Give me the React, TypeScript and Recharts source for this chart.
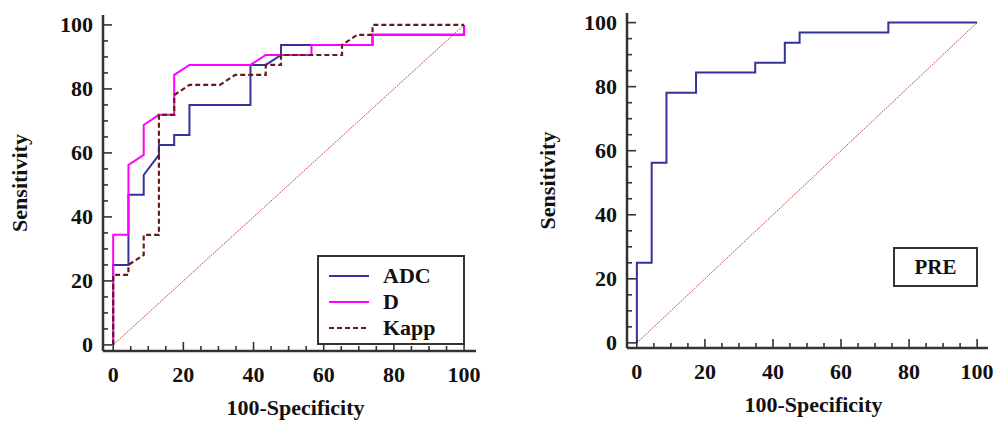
import React from 'react';
import { LineChart, Line, XAxis, YAxis, Legend, Label } from 'recharts';

// ROC points: 100-Specificity (%) and Sensitivity (%)
const adcFpr = [0, 0, 4.35, 4.35, 8.7, 8.7, 13.04, 13.04, 17.39, 17.39, 21.74, 21.74, 39.13, 39.13, 43.48, 47.83, 47.83, 73.91, 73.91, 100, 100];
const adcSens = [0, 25, 25, 46.9, 46.9, 53.1, 59.4, 62.5, 62.5, 65.6, 65.6, 75, 75, 87.5, 87.5, 90.6, 93.75, 93.75, 96.9, 96.9, 100];

const dFpr = [0, 0, 4.35, 4.35, 8.7, 8.7, 13.04, 17.39, 17.39, 21.74, 39.13, 43.48, 56.52, 56.52, 73.91, 73.91, 100, 100];
const dSens = [0, 34.4, 34.4, 56.25, 59.4, 68.75, 71.9, 71.9, 84.4, 87.5, 87.5, 90.6, 90.6, 93.75, 93.75, 96.9, 96.9, 100];

const kappFpr = [0, 0, 4.35, 4.35, 8.7, 8.7, 13.04, 13.04, 17.39, 17.39, 21.74, 30.43, 34.78, 43.48, 43.48, 47.83, 47.83, 65.22, 65.22, 69.57, 73.91, 73.91, 100];
const kappSens = [0, 21.9, 21.9, 25, 28.1, 34.4, 34.4, 71.9, 71.9, 78.1, 81.25, 81.25, 84.4, 84.4, 87.5, 87.5, 90.6, 90.6, 93.75, 96.9, 96.9, 100, 100];

const preFpr = [0, 0, 4.35, 4.35, 8.7, 8.7, 17.39, 17.39, 34.78, 34.78, 43.48, 43.48, 47.83, 47.83, 73.91, 73.91, 100];
const preSens = [0, 25, 25, 56.25, 56.25, 78.1, 78.1, 84.4, 84.4, 87.5, 87.5, 93.75, 93.75, 96.9, 96.9, 100, 100];

const refFpr = [0, 100];
const refSens = [0, 100];

const axisTicks = [0, 5, 10, 15, 20, 25, 30, 35, 40, 45, 50, 55, 60, 65, 70, 75, 80, 85, 90, 95, 100];

const toPoints = (xs: number[], ys: number[]) => xs.map((x, i) => ({ x, y: ys[i] }));

const FONT = '"Liberation Serif", "Times New Roman", serif';
const AXIS = '#333';

function XTick(props: any) {
    const { x, y, payload } = props;
    const major = payload.value % 20 === 0;
    return (
        <g>
            <line x1={x} y1={y} x2={x} y2={y - (major ? 9 : 5)} stroke={AXIS} strokeWidth={1.6} />
            {major && (
                <text x={x} y={y + 31} textAnchor="middle" fontFamily={FONT} fontWeight="bold" fontSize={22} fill="#111">
                    {payload.value}
                </text>
            )}
        </g>
    );
}

function YTick(props: any) {
    const { x, y, payload } = props;
    const major = payload.value % 20 === 0;
    return (
        <g>
            <line x1={x} y1={y} x2={x + (major ? 9 : 5)} y2={y} stroke={AXIS} strokeWidth={1.6} />
            {major && (
                <text x={x - 10} y={y + 7.5} textAnchor="end" fontFamily={FONT} fontWeight="bold" fontSize={22} fill="#111">
                    {payload.value}
                </text>
            )}
        </g>
    );
}

const xTitle = (dx: number) => (p: any) => {
    const vb = p.viewBox;
    return (
        <text x={vb.x + vb.width / 2 + dx} y={vb.y + 64} textAnchor="middle" fontFamily={FONT} fontWeight="bold" fontSize={22} fill="#111">
            100-Specificity
        </text>
    );
};

const yTitle = (cx: number) => (p: any) => {
    const vb = p.viewBox;
    const cy = vb.y + vb.height / 2;
    return (
        <text x={cx} y={cy} transform={`rotate(-90 ${cx} ${cy})`} textAnchor="middle" dominantBaseline="central" fontFamily={FONT} fontWeight="bold" fontSize={22} fill="#111">
            Sensitivity
        </text>
    );
};

function LeftLegend(props: any) {
    const items = (props.payload || []).filter((e: any) => e.type !== 'none');
    return (
        <div style={{ width: 148, height: 90, boxSizing: 'border-box', border: `2px solid ${AXIS}`, background: '#fff', paddingTop: 6 }}>
            {items.map((e: any, i: number) => (
                <div key={i} style={{ display: 'flex', alignItems: 'center', height: 26 }}>
                    <svg width={54} height={10} style={{ marginLeft: 10 }}>
                        <line x1={0} y1={5} x2={40} y2={5} stroke={e.color} strokeWidth={e.payload?.strokeDasharray ? 1.8 : 2} strokeDasharray={e.payload?.strokeDasharray} />
                    </svg>
                    <span style={{ fontFamily: FONT, fontWeight: 'bold', fontSize: 22, color: '#111', lineHeight: '26px' }}>{e.value}</span>
                </div>
            ))}
        </div>
    );
}

function RightLegend(props: any) {
    const items = (props.payload || []).filter((e: any) => e.value === 'PRE');
    return (
        <div style={{ width: 85, height: 40, boxSizing: 'border-box', border: `2px solid ${AXIS}`, background: '#fff', display: 'flex', alignItems: 'center', justifyContent: 'center' }}>
            {items.map((e: any, i: number) => (
                <span key={i} style={{ fontFamily: FONT, fontWeight: 'bold', fontSize: 21, color: '#111' }}>{e.value}</span>
            ))}
        </div>
    );
}

export default function App() {
    return (
        <div style={{ position: 'absolute', left: 0, top: 0, width: 997, height: 422, background: '#fff' }}>
            <div style={{ position: 'absolute', left: 0, top: 0 }}>
                <LineChart width={500} height={422} margin={{ top: 15, right: 24, bottom: 11, left: 0 }}>
                    <XAxis dataKey="x" type="number" domain={[-2.9, 103.4]} ticks={axisTicks} interval={0} tick={<XTick />} tickSize={0} tickMargin={0} tickLine={false} axisLine={{ stroke: AXIS, strokeWidth: 2.5 }} height={60}>
                        <Label content={xTitle(6)} />
                    </XAxis>
                    <YAxis dataKey="y" type="number" domain={[-1.9, 103.1]} ticks={axisTicks} interval={0} tick={<YTick />} tickSize={0} tickMargin={0} tickLine={false} axisLine={{ stroke: AXIS, strokeWidth: 2.5 }} width={103}>
                        <Label content={yTitle(19)} />
                    </YAxis>
                    <Legend layout="vertical" align="center" verticalAlign="middle" wrapperStyle={{ left: 317, top: 255, width: 148 }} content={<LeftLegend />} />
                    <Line data={toPoints(refFpr, refSens)} dataKey="y" name="ref" legendType="none" stroke="#c0504d" strokeWidth={1} strokeDasharray="2 1" dot={false} isAnimationActive={false} />
                    <Line data={toPoints(adcFpr, adcSens)} dataKey="y" name="ADC" stroke="#333399" strokeWidth={2} dot={false} isAnimationActive={false} />
                    <Line data={toPoints(dFpr, dSens)} dataKey="y" name="D" stroke="#ff00ff" strokeWidth={2} dot={false} isAnimationActive={false} />
                    <Line data={toPoints(kappFpr, kappSens)} dataKey="y" name="Kapp" stroke="#6b1a1a" strokeWidth={2.2} strokeDasharray="5 3" dot={false} isAnimationActive={false} />
                </LineChart>
            </div>
            <div style={{ position: 'absolute', left: 530, top: 0 }}>
                <LineChart width={467} height={422} margin={{ top: 13, right: 9, bottom: 14, left: 0 }}>
                    <XAxis dataKey="x" type="number" domain={[-2.9, 103.2]} ticks={axisTicks} interval={0} tick={<XTick />} tickSize={0} tickMargin={0} tickLine={false} axisLine={{ stroke: AXIS, strokeWidth: 2.5 }} height={60}>
                        <Label content={xTitle(6)} />
                    </XAxis>
                    <YAxis dataKey="y" type="number" domain={[-1.6, 103]} ticks={axisTicks} interval={0} tick={<YTick />} tickSize={0} tickMargin={0} tickLine={false} axisLine={{ stroke: AXIS, strokeWidth: 2.5 }} width={97}>
                        <Label content={yTitle(17)} />
                    </YAxis>
                    <Legend layout="vertical" align="center" verticalAlign="middle" wrapperStyle={{ left: 363, top: 247, width: 85 }} content={<RightLegend />} />
                    <Line data={toPoints(refFpr, refSens)} dataKey="y" name="ref" legendType="none" stroke="#c0504d" strokeWidth={1} strokeDasharray="2 1" dot={false} isAnimationActive={false} />
                    <Line data={toPoints(preFpr, preSens)} dataKey="y" name="PRE" stroke="#333399" strokeWidth={2} dot={false} isAnimationActive={false} />
                </LineChart>
            </div>
        </div>
    );
}
